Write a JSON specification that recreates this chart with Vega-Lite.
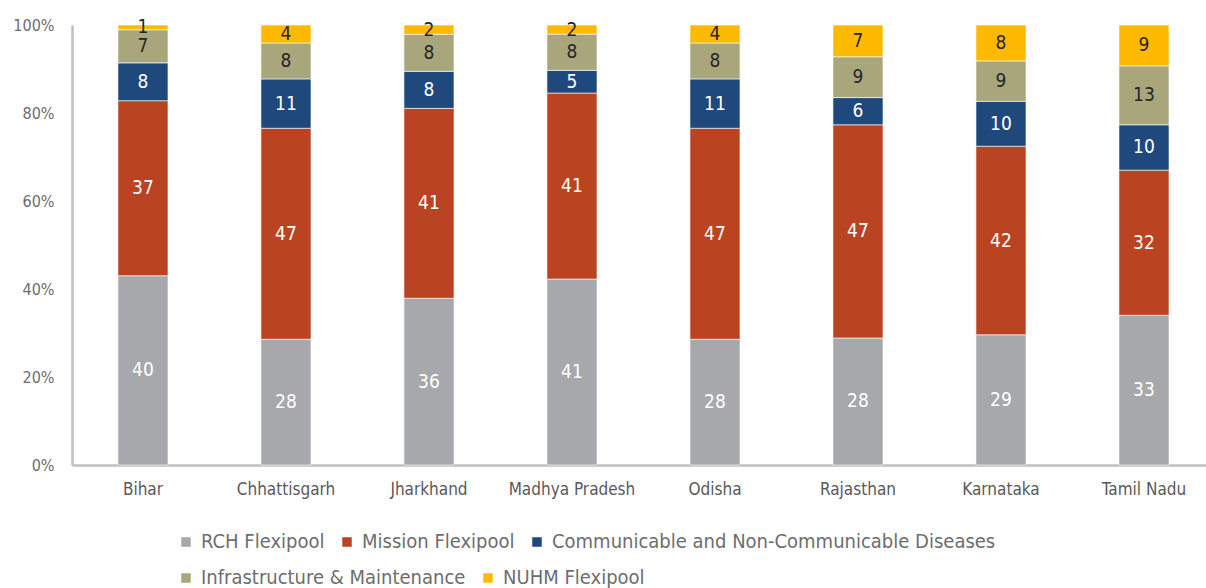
{
  "$schema": "https://vega.github.io/schema/vega-lite/v6.json",
  "width": 1134,
  "height": 440,
  "autosize": {"type": "none"},
  "padding": {"left": 72, "top": 25, "right": 0, "bottom": 123},
  "background": "white",
  "config": {
    "view": {"stroke": null},
    "font": "DejaVu Sans Condensed",
    "axis": {"grid": false, "ticks": false, "domainColor": "#BFBFBF", "domainWidth": 2.5, "labelColor": "#595959", "labelFont": "DejaVu Sans Condensed", "title": null},
    "legend": {
      "title": null, "orient": "none", "direction": "horizontal",
      "symbolType": "square", "symbolSize": 90, "symbolStrokeWidth": 0,
      "labelFontSize": 20, "labelColor": "#6D6D6D", "labelFont": "DejaVu Sans Condensed",
      "labelOffset": 5, "columnPadding": 12, "labelLimit": 600
    }
  },
  "data": {"values": [
    {"state": "Bihar", "scheme": "RCH Flexipool", "o": 0, "v": 40},
    {"state": "Bihar", "scheme": "Mission Flexipool", "o": 1, "v": 37},
    {"state": "Bihar", "scheme": "Communicable and Non-Communicable Diseases", "o": 2, "v": 8},
    {"state": "Bihar", "scheme": "Infrastructure & Maintenance", "o": 3, "v": 7},
    {"state": "Bihar", "scheme": "NUHM Flexipool", "o": 4, "v": 1},
    {"state": "Chhattisgarh", "scheme": "RCH Flexipool", "o": 0, "v": 28},
    {"state": "Chhattisgarh", "scheme": "Mission Flexipool", "o": 1, "v": 47},
    {"state": "Chhattisgarh", "scheme": "Communicable and Non-Communicable Diseases", "o": 2, "v": 11},
    {"state": "Chhattisgarh", "scheme": "Infrastructure & Maintenance", "o": 3, "v": 8},
    {"state": "Chhattisgarh", "scheme": "NUHM Flexipool", "o": 4, "v": 4},
    {"state": "Jharkhand", "scheme": "RCH Flexipool", "o": 0, "v": 36},
    {"state": "Jharkhand", "scheme": "Mission Flexipool", "o": 1, "v": 41},
    {"state": "Jharkhand", "scheme": "Communicable and Non-Communicable Diseases", "o": 2, "v": 8},
    {"state": "Jharkhand", "scheme": "Infrastructure & Maintenance", "o": 3, "v": 8},
    {"state": "Jharkhand", "scheme": "NUHM Flexipool", "o": 4, "v": 2},
    {"state": "Madhya Pradesh", "scheme": "RCH Flexipool", "o": 0, "v": 41},
    {"state": "Madhya Pradesh", "scheme": "Mission Flexipool", "o": 1, "v": 41},
    {"state": "Madhya Pradesh", "scheme": "Communicable and Non-Communicable Diseases", "o": 2, "v": 5},
    {"state": "Madhya Pradesh", "scheme": "Infrastructure & Maintenance", "o": 3, "v": 8},
    {"state": "Madhya Pradesh", "scheme": "NUHM Flexipool", "o": 4, "v": 2},
    {"state": "Odisha", "scheme": "RCH Flexipool", "o": 0, "v": 28},
    {"state": "Odisha", "scheme": "Mission Flexipool", "o": 1, "v": 47},
    {"state": "Odisha", "scheme": "Communicable and Non-Communicable Diseases", "o": 2, "v": 11},
    {"state": "Odisha", "scheme": "Infrastructure & Maintenance", "o": 3, "v": 8},
    {"state": "Odisha", "scheme": "NUHM Flexipool", "o": 4, "v": 4},
    {"state": "Rajasthan", "scheme": "RCH Flexipool", "o": 0, "v": 28},
    {"state": "Rajasthan", "scheme": "Mission Flexipool", "o": 1, "v": 47},
    {"state": "Rajasthan", "scheme": "Communicable and Non-Communicable Diseases", "o": 2, "v": 6},
    {"state": "Rajasthan", "scheme": "Infrastructure & Maintenance", "o": 3, "v": 9},
    {"state": "Rajasthan", "scheme": "NUHM Flexipool", "o": 4, "v": 7},
    {"state": "Karnataka", "scheme": "RCH Flexipool", "o": 0, "v": 29},
    {"state": "Karnataka", "scheme": "Mission Flexipool", "o": 1, "v": 42},
    {"state": "Karnataka", "scheme": "Communicable and Non-Communicable Diseases", "o": 2, "v": 10},
    {"state": "Karnataka", "scheme": "Infrastructure & Maintenance", "o": 3, "v": 9},
    {"state": "Karnataka", "scheme": "NUHM Flexipool", "o": 4, "v": 8},
    {"state": "Tamil Nadu", "scheme": "RCH Flexipool", "o": 0, "v": 33},
    {"state": "Tamil Nadu", "scheme": "Mission Flexipool", "o": 1, "v": 32},
    {"state": "Tamil Nadu", "scheme": "Communicable and Non-Communicable Diseases", "o": 2, "v": 10},
    {"state": "Tamil Nadu", "scheme": "Infrastructure & Maintenance", "o": 3, "v": 13},
    {"state": "Tamil Nadu", "scheme": "NUHM Flexipool", "o": 4, "v": 9}
  ]},
  "transform": [
    {"stack": "v", "groupby": ["state"], "sort": [{"field": "o", "order": "ascending"}], "offset": "normalize", "as": ["y0", "y1"]},
    {"calculate": "(datum.y0 + datum.y1) / 2", "as": "ym"}
  ],
  "encoding": {
    "x": {
      "field": "state", "type": "nominal", "sort": null,
      "scale": {"paddingInner": 0.65, "paddingOuter": 0.29, "align": 0.554},
      "axis": {"labelAngle": 0, "labelFontSize": 17, "labelPadding": 16}
    }
  },
  "layer": [
    {
      "transform": [{"filter": "datum.o < 3"}],
      "mark": {"type": "bar", "stroke": "white", "strokeWidth": 0.6},
      "encoding": {
        "y": {"field": "y0", "type": "quantitative", "scale": {"domain": [0, 1], "nice": false},
              "axis": {"format": ".0%", "values": [0, 0.2, 0.4, 0.6, 0.8, 1], "labelFontSize": 16, "labelPadding": 18, "labelColor": "#6D6D6D"}},
        "y2": {"field": "y1"},
        "color": {
          "field": "scheme", "type": "nominal", "sort": null,
          "scale": {
            "domain": ["RCH Flexipool", "Mission Flexipool", "Communicable and Non-Communicable Diseases"],
            "range": ["#A7A8AB", "#BA4321", "#1F497C"]
          },
          "legend": {"legendX": 104, "legendY": 507}
        }
      }
    },
    {
      "transform": [{"filter": "datum.o >= 3"}],
      "mark": {"type": "bar", "stroke": "white", "strokeWidth": 0.6},
      "encoding": {
        "y": {"field": "y0", "type": "quantitative"},
        "y2": {"field": "y1"},
        "color": {
          "field": "scheme", "type": "nominal", "sort": null,
          "scale": {
            "domain": ["Infrastructure & Maintenance", "NUHM Flexipool"],
            "range": ["#A8A67A", "#FDBA00"]
          },
          "legend": {"legendX": 104, "legendY": 543}
        }
      }
    },
    {
      "mark": {"type": "text", "fontSize": 19, "baseline": "middle", "align": "center"},
      "encoding": {
        "y": {"field": "ym", "type": "quantitative"},
        "text": {"field": "v", "type": "quantitative"},
        "color": {"condition": {"test": "datum.o >= 3", "value": "#262626"}, "value": "#FFFFFF"}
      }
    }
  ],
  "resolve": {"scale": {"color": "independent"}, "legend": {"color": "independent"}}
}
